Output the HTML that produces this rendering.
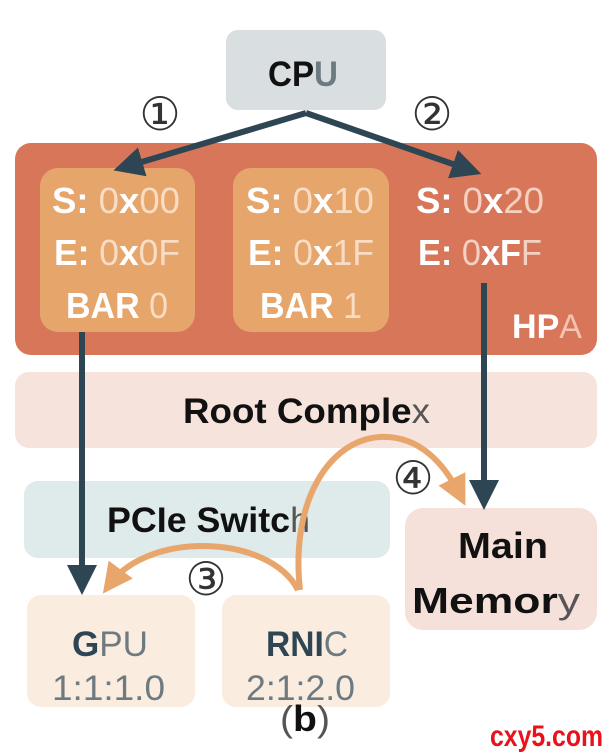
<!DOCTYPE html>
<html><head><meta charset="utf-8"><style>
body{margin:0;background:#fff}
svg{display:block}
text{font-family:"Liberation Sans","DejaVu Sans",sans-serif;font-weight:bold}
.n{font-weight:normal}
</style></head><body>
<svg width="608" height="754" viewBox="0 0 608 754" xmlns="http://www.w3.org/2000/svg">
<defs>
<marker id="ad" markerWidth="5" markerHeight="5" refX="3" refY="2.5" orient="auto" markerUnits="strokeWidth"><path d="M0,0 L5,2.5 L0,5 z" fill="#2e4553"/></marker>
<marker id="ao" markerWidth="5" markerHeight="5" refX="3" refY="2.5" orient="auto" markerUnits="strokeWidth"><path d="M0,0 L5,2.5 L0,5 z" fill="#e8a66c"/></marker>
</defs>
<rect x="226" y="30" width="160" height="80" rx="12" fill="#d9dee1"/>
<text x="268" y="86" font-size="35" textLength="70" lengthAdjust="spacingAndGlyphs" fill="#111">CP<tspan fill="#6d7a80">U</tspan></text>
<rect x="15" y="143" width="582" height="212" rx="16" fill="#d8765a"/>
<rect x="40" y="168" width="155" height="164" rx="18" fill="#e6a56b"/>
<rect x="233" y="168" width="156" height="164" rx="18" fill="#e6a56b"/>
<g font-size="36" fill="#fff">
<text x="52" y="213" textLength="128" lengthAdjust="spacingAndGlyphs">S: <tspan fill="#f8dcc4" class="n">0</tspan>x<tspan fill="#f8dcc4" class="n">00</tspan></text>
<text x="54" y="265" textLength="126" lengthAdjust="spacingAndGlyphs">E: <tspan fill="#f8dcc4" class="n">0</tspan>x<tspan fill="#f8dcc4" class="n">0F</tspan></text>
<text x="66" y="318" textLength="102" lengthAdjust="spacingAndGlyphs">BAR <tspan fill="#f8dcc4" class="n">0</tspan></text>
<text x="246" y="213" textLength="128" lengthAdjust="spacingAndGlyphs">S: <tspan fill="#f8dcc4" class="n">0</tspan>x<tspan fill="#f8dcc4" class="n">10</tspan></text>
<text x="248" y="265" textLength="126" lengthAdjust="spacingAndGlyphs">E: <tspan fill="#f8dcc4" class="n">0</tspan>x<tspan fill="#f8dcc4" class="n">1F</tspan></text>
<text x="260" y="318" textLength="102" lengthAdjust="spacingAndGlyphs">BAR <tspan fill="#f8dcc4" class="n">1</tspan></text>
<text x="416" y="213" textLength="128" lengthAdjust="spacingAndGlyphs">S: <tspan fill="#f5d0c0" class="n">0</tspan>x<tspan fill="#f5d0c0" class="n">20</tspan></text>
<text x="418" y="265" textLength="124" lengthAdjust="spacingAndGlyphs">E: <tspan fill="#f5d0c0" class="n">0</tspan>xF<tspan fill="#f5d0c0" class="n">F</tspan></text>
<text x="512" y="338" font-size="34" textLength="70" lengthAdjust="spacingAndGlyphs">HP<tspan fill="#f5c4b0" class="n">A</tspan></text>
</g>
<rect x="15" y="372" width="582" height="76" rx="14" fill="#f6e3dc"/>
<text x="183" y="423" font-size="35" textLength="247" lengthAdjust="spacingAndGlyphs" fill="#111">Root Comple<tspan fill="#555" class="n">x</tspan></text>
<rect x="24" y="481" width="366" height="77" rx="14" fill="#dfeaea"/>
<text x="107" y="532" font-size="35" textLength="203" lengthAdjust="spacingAndGlyphs" fill="#111">PCIe Switc<tspan fill="#555" class="n">h</tspan></text>
<rect x="405" y="508" width="192" height="122" rx="18" fill="#f5e0da"/>
<text x="458" y="558" font-size="36" textLength="90" lengthAdjust="spacingAndGlyphs" fill="#111">Main</text>
<text x="412" y="613" font-size="36" textLength="168" lengthAdjust="spacingAndGlyphs" fill="#111">Memor<tspan fill="#555" class="n">y</tspan></text>
<rect x="27" y="595" width="168" height="112" rx="14" fill="#fbece0"/>
<rect x="222" y="595" width="168" height="112" rx="14" fill="#fbece0"/>
<text x="72" y="656" font-size="35" textLength="76" lengthAdjust="spacingAndGlyphs" fill="#2e4553">G<tspan fill="#6d7a80" class="n">PU</tspan></text>
<text x="52" y="700" font-size="35" textLength="113" lengthAdjust="spacingAndGlyphs" fill="#6d7a80" class="n">1:1:1.0</text>
<text x="266" y="656" font-size="35" textLength="82" lengthAdjust="spacingAndGlyphs" fill="#2e4553">RNI<tspan fill="#6d7a80" class="n">C</tspan></text>
<text x="246" y="700" font-size="35" textLength="109" lengthAdjust="spacingAndGlyphs" fill="#6d7a80" class="n">2:1:2.0</text>
<g stroke="#2e4553" stroke-width="6" fill="none">
<line x1="306" y1="113" x2="125" y2="167" marker-end="url(#ad)"/>
<line x1="306" y1="113" x2="470" y2="170" marker-end="url(#ad)"/>
<line x1="82" y1="332" x2="82" y2="583" marker-end="url(#ad)"/>
<line x1="484" y1="283" x2="484" y2="498" marker-end="url(#ad)"/>
</g>
<g stroke="#e8a66c" stroke-width="6" fill="none">
<path d="M300,590 C290,500 330,440 380,437 C420,435 445,465 460,495" marker-end="url(#ao)"/>
<path d="M298,590 C270,535 150,530 110,584" marker-end="url(#ao)"/>
</g>
<g font-size="46" fill="#333" text-anchor="middle">
<text x="160" y="130" class="n">①</text>
<text x="432" y="130" class="n">②</text>
<text x="206" y="595" class="n">③</text>
<text x="413" y="494" class="n">④</text>
</g>
<text x="280" y="731" font-size="36" textLength="50" lengthAdjust="spacingAndGlyphs" fill="#111"><tspan fill="#555" class="n">(</tspan>b<tspan fill="#555" class="n">)</tspan></text>
<text x="490" y="746" font-size="30" fill="#e8121c" textLength="113" lengthAdjust="spacingAndGlyphs">cxy5.com</text>
</svg>
</body></html>
